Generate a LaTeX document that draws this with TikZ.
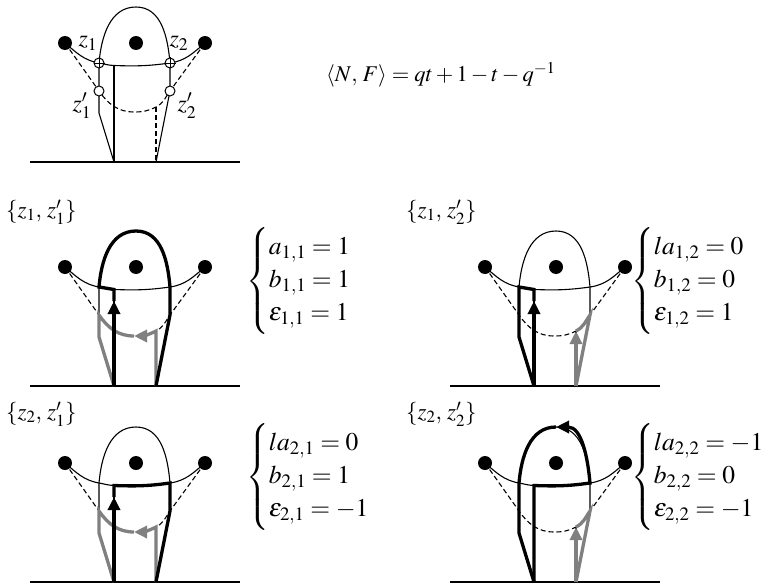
\documentclass[tikz,border=0pt]{standalone}
\usepackage{amsmath}
\usepackage{mathptmx}
\usetikzlibrary{arrows.meta}
\definecolor{grayc}{gray}{0.5}
\tikzset{
 dot/.style={circle,fill=black,inner sep=0pt,minimum size=14pt},
 thinln/.style={line width=1.1pt},
 dsh/.style={line width=1.1pt,dash pattern=on 5pt off 3pt},
 blk/.style={line width=3.3pt,draw=black},
 gry/.style={line width=3.3pt,draw=grayc},
 tipa/.style={-{Triangle[length=13pt,width=12pt]}},
 ocirc/.style={circle,draw,fill=white,line width=1pt,inner sep=0pt,minimum size=10pt},
 lbl/.style={inner sep=0pt,font=\fontsize{24}{28}\selectfont},
 setl/.style={inner sep=0pt,anchor=west,font=\fontsize{23}{27}\selectfont},
 eqn/.style={inner sep=0pt,anchor=west,font=\fontsize{25.5}{27.5}\selectfont},
}
\newcommand\basefig[1]{%
 \node[dot] (#1L) at (65,43) {};
 \node[dot] (#1M) at (136,43) {};
 \node[dot] (#1R) at (205,43) {};
 \coordinate (#1P1) at (99,63);
 \coordinate (#1P2) at (170,63);
 \coordinate (#1Q1) at (99,91);
 \coordinate (#1Q2) at (170,91);
 \coordinate (#1K1) at (99,113);
 \coordinate (#1T) at (136,7);
 \coordinate (#1A) at (114,65.5);
 \coordinate (#1U) at (114,77);
 \coordinate (#1B1) at (114,162);
 \coordinate (#1B2) at (156,162);
 \coordinate (#1D) at (156,107);
 \coordinate (#1N) at (134,112);
 \coordinate (#1G1) at (30,162);
 \coordinate (#1G2) at (240,162);
 \draw[thinln] (#1L.center) to[out=-40,in=170] (#1P1) to[out=-10,in=178] (#1A)
   to[out=-2,in=188] (#1P2) to[out=8,in=-140] (#1R.center);
 \draw[thinln] (#1B1) -- (#1K1) -- (#1P1) to[out=85,in=180] (#1T)
   to[out=0,in=95] (#1P2) -- (#1Q2) -- (#1B2);
 \draw[thinln] (#1A) -- (#1B1);
 \draw[dsh] (#1L.center) -- (#1Q1) to[out=-55,in=180] (#1N) to[out=0,in=-153] (#1D)
   to[out=27,in=-125] (#1Q2) -- (#1R.center);
 \draw[dsh] (#1D) -- (#1B2);
 \draw[thinln] (#1G1) -- (#1G2);
}
\begin{document}
\begin{tikzpicture}[x=1pt,y=-1pt]
\useasboundingbox (0,0) rectangle (778,583);
% top figure
\basefig{o}
\node[ocirc] (c1) at (oP1) {};
\draw[line width=0.8pt] (c1.north) -- (c1.south) (c1.west) -- (c1.east);
\node[ocirc] (c2) at (oP2) {};
\draw[line width=0.8pt] (c2.north) -- (c2.south) (c2.west) -- (c2.east);
\node[ocirc] (c3) at (oQ1) {};
\node[ocirc] (c4) at (oQ2) {};
\node[lbl] (lz1) at (88,43) {$z_1$};
\node[lbl] (lz2) at (179,43) {$z_2$};
\node[lbl] (lz1p) at (82,106) {$z'_1$};
\node[lbl] (lz2p) at (187,106) {$z'_2$};
\node[lbl,anchor=base west,font=\fontsize{22.5}{27}\selectfont] (nf) at (326,82)
  {$\langle N,\, F\rangle = qt + 1 - t - q^{-1}$};
% panel 1
\begin{scope}[shift={(0,224)}] \basefig{a} \end{scope}
\draw[gry,tipa] (aB2) -- (aD) to[out=-153,in=0] (aN);
\draw[gry] (aN) to[out=180,in=-55] (aQ1) -- (aK1) -- (aB1);
\draw[blk,tipa] (aB1) -- (aU);
\draw[blk] (aU) -- (aA) -- (aP1) to[out=85,in=180] (aT) to[out=0,in=95] (aP2) -- (aQ2) -- (aB2);
\node[setl] (sa) at (6,212) {$\{z_1,\, z'_1\}$};
\node[eqn] (ea) at (246,281) {$\begin{cases} a_{1,1} = 1\\ b_{1,1} = 1\\ \varepsilon_{1,1} = 1 \end{cases}$};
% panel 2
\begin{scope}[shift={(420,224)}] \basefig{b} \end{scope}
\draw[gry,tipa] (bB2) -- (bD);
\draw[gry] (bD) to[out=27,in=-125] (bQ2) -- (bB2);
\draw[blk,tipa] (bB1) -- (bU);
\draw[blk] (bU) -- (bA) -- (bP1) -- (bK1) -- (bB1);
\node[setl] (sb) at (406,212) {$\{z_1,\, z'_2\}$};
\node[eqn] (eb) at (631,281) {$\begin{cases} la_{1,2} = 0\\ b_{1,2} = 0\\ \varepsilon_{1,2} = 1 \end{cases}$};
% panel 3
\begin{scope}[shift={(0,420)}] \basefig{c} \end{scope}
\draw[gry,tipa] (cB2) -- (cD) to[out=-153,in=0] (cN);
\draw[gry] (cN) to[out=180,in=-55] (cQ1) -- (cK1) -- (cB1);
\draw[blk,tipa] (cB1) -- (cU);
\draw[blk] (cU) -- (cA) to[out=-2,in=188] (cP2) -- (cQ2) -- (cB2);
\node[setl] (sc) at (6,414) {$\{z_2,\, z'_1\}$};
\node[eqn] (ec) at (246,477) {$\begin{cases} la_{2,1} = 0\\ b_{2,1} = 1\\ \varepsilon_{2,1} = -1 \end{cases}$};
% panel 4
\begin{scope}[shift={(420,420)}] \basefig{d} \end{scope}
\draw[gry,tipa] (dB2) -- (dD);
\draw[gry] (dD) to[out=27,in=-125] (dQ2) -- (dB2);
\draw[blk,tipa] (dB1) -- (dA) to[out=-2,in=188] (dP2) to[out=95,in=0] (dT);
\draw[blk] (dT) to[out=180,in=85] (dP1) -- (dK1) -- (dB1);
\node[setl] (sd) at (406,414) {$\{z_2,\, z'_2\}$};
\node[eqn] (ed) at (631,477) {$\begin{cases} la_{2,2} = -1\\ b_{2,2} = 0\\ \varepsilon_{2,2} = -1 \end{cases}$};
\end{tikzpicture}
\end{document}
